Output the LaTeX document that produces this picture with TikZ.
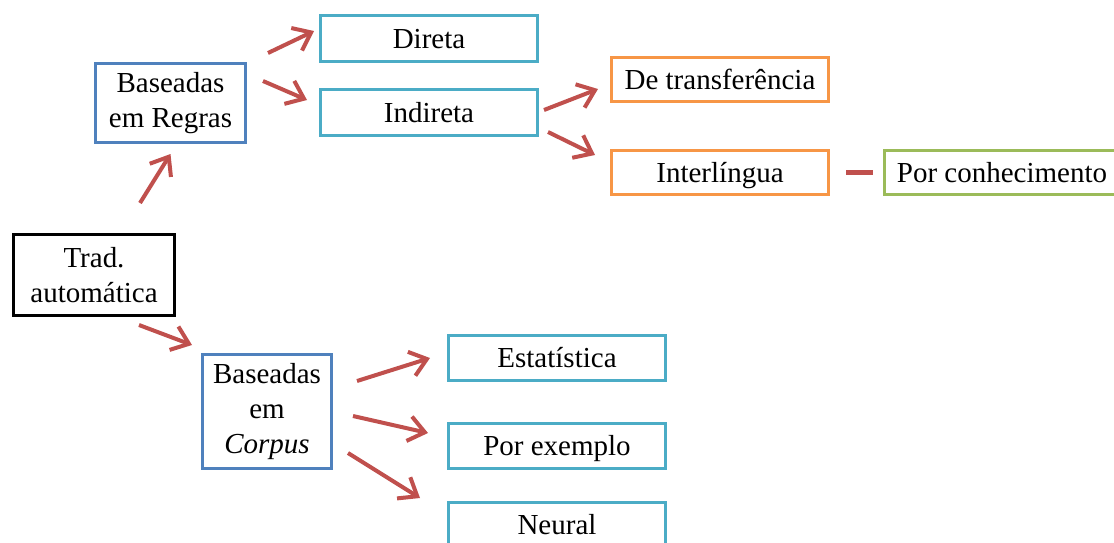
\documentclass[tikz,border=0pt]{standalone}
\usepackage{fontspec}
\setmainfont{Liberation Serif}
\usetikzlibrary{arrows.meta}
\definecolor{rulesblue}{HTML}{4F81BD}
\definecolor{leafaqua}{HTML}{4BACC6}
\definecolor{leaforange}{HTML}{F79646}
\definecolor{leafgreen}{HTML}{9BBB59}
\definecolor{arrowred}{HTML}{C0504D}
\begin{document}
\begin{tikzpicture}[x=0.5pt,y=-0.5pt,
  box/.style={draw,line width=1.5pt,fill=white,inner sep=2pt,align=center,font=\fontsize{14.5}{17.5}\selectfont},
  leaf/.style={box,minimum width=108.5pt,minimum height=22.5pt,text height=12.5pt,text depth=2.9pt},
  arr/.style={draw=arrowred,line width=2pt,-{Straight Barb[length=8pt,width=12.5pt]}}]
\useasboundingbox (0,0) rectangle (1114,542);
\clip (0,0) rectangle (1114,542);
\node[box,draw=black,minimum width=80.5pt,minimum height=40.5pt] (trad) at (94,275) {Trad.\\automática};
\node[box,draw=rulesblue,minimum width=75pt,minimum height=39.5pt] (regras) at (170.5,103) {Baseadas\\em Regras};
\node[box,draw=rulesblue,minimum width=64.5pt,minimum height=57pt] (corpus) at (267,411.5) {Baseadas\\em\\\textit{Corpus}};
\node[leaf,draw=leafaqua,minimum height=23pt] (direta) at (429,38.5) {Direta};
\node[leaf,draw=leafaqua,minimum height=23pt] (indireta) at (429,112.5) {Indireta};
\node[leaf,draw=leaforange,minimum height=22pt] (transf) at (720,79.5) {De transferência};
\node[leaf,draw=leaforange,minimum height=22pt] (interlingua) at (720,172.5) {Interlíngua};
\node[leaf,draw=leafgreen,minimum width=117.5pt,minimum height=22pt] (conhec) at (1002,172.5) {Por conhecimento};
\node[leaf,draw=leafaqua] (estat) at (557,358) {Estatística};
\node[leaf,draw=leafaqua] (exemplo) at (557,445.5) {Por exemplo};
\node[leaf,draw=leafaqua] (neural) at (557,525) {Neural};
\draw[arr] ([shift={(46,-30)}]trad.north) -- ([shift={(0,10)}]regras.south);
\draw[arr] ([shift={(21,-9)}]regras.north east) -- ([shift={(-5,-7.5)}]direta.west);
\draw[arr] ([shift={(16,-22)}]regras.east) -- ([shift={(-12,-12.5)}]indireta.west);
\draw[arr] ([shift={(5,-2.5)}]indireta.east) -- ([shift={(-12,9.5)}]transf.west);
\draw[arr] ([shift={(9,19.5)}]indireta.east) -- ([shift={(-15,-17.5)}]interlingua.west);
\draw[draw=arrowred,line width=2.5pt,shorten <=8pt,shorten >=5pt] (interlingua) -- (conhec);
\draw[arr] ([shift={(45,8)}]trad.south) -- ([shift={(-9,-8)}]corpus.north west);
\draw[arr] ([shift={(24,-30.5)}]corpus.east) -- ([shift={(-17,0)}]estat.west);
\draw[arr] ([shift={(20,4.5)}]corpus.east) -- ([shift={(-19,-12.5)}]exemplo.west);
\draw[arr] ([shift={(15,41.5)}]corpus.east) -- ([shift={(-27,-27)}]neural.west);
\end{tikzpicture}
\end{document}
